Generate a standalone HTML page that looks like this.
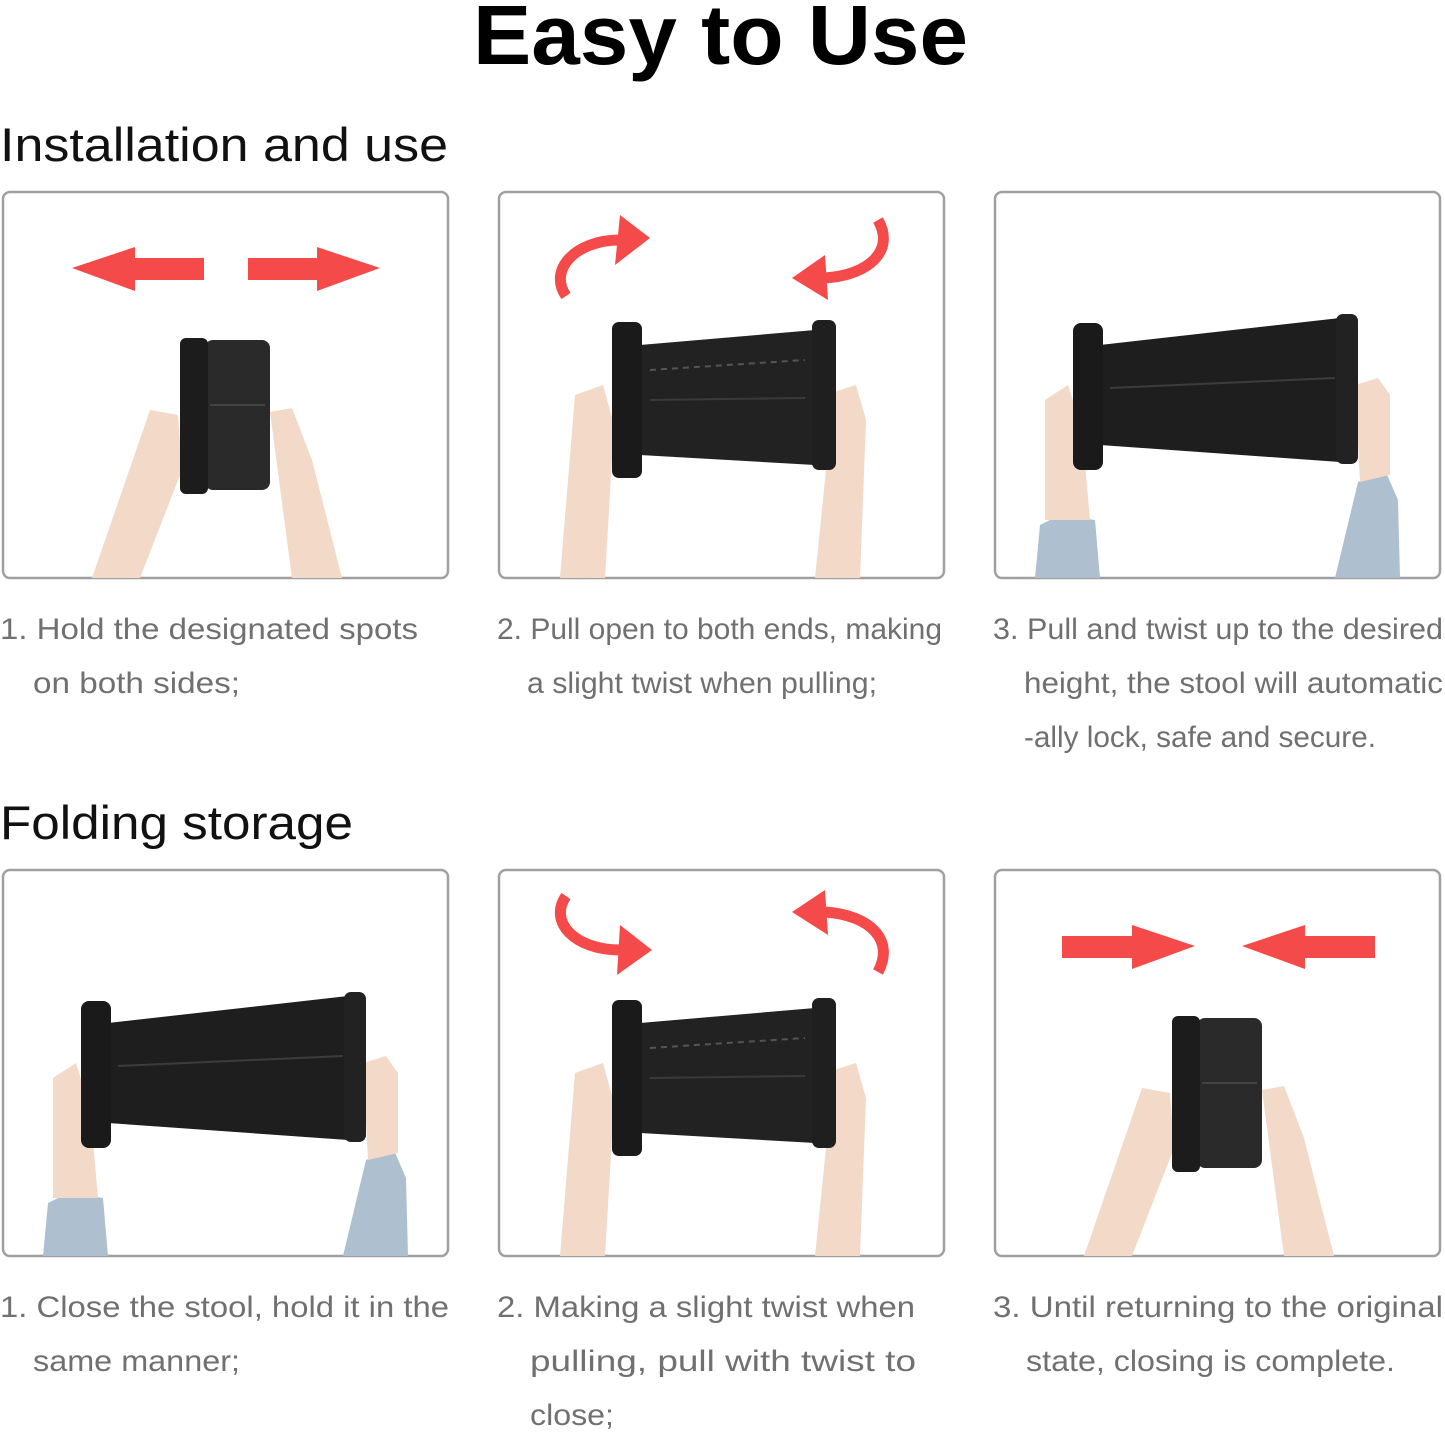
<!DOCTYPE html>
<html><head><meta charset="utf-8"><style>
html,body{margin:0;padding:0;background:#fff;}
svg{display:block;}
.cap{font-family:"Liberation Sans",sans-serif;font-size:30px;fill:#707070;}
.h2{font-family:"Liberation Sans",sans-serif;font-size:47px;fill:#111;}
</style></head><body>
<svg width="1445" height="1434" viewBox="0 0 1445 1434" xmlns="http://www.w3.org/2000/svg">
<defs>
<g id="p1">
  <polygon points="92,578 140,578 182,470 178,415 150,410" fill="#f2d9c8"/>
  <polygon points="292,578 342,578 312,460 292,408 270,412" fill="#f2d9c8"/>
  <rect x="205" y="340" width="65" height="150" rx="8" fill="#2a2a2a"/>
  <rect x="180" y="338" width="28" height="156" rx="6" fill="#1c1c1c"/>
  <line x1="210" y1="405" x2="265" y2="405" stroke="#444" stroke-width="2"/>
</g>
<g id="p2">
  <polygon points="560,578 605,578 614,425 603,385 575,395" fill="#f2d9c8"/>
  <polygon points="815,578 860,578 866,420 856,385 834,392" fill="#f2d9c8"/>
  <polygon points="640,345 815,330 815,465 640,455" fill="#222"/>
  <rect x="612" y="322" width="30" height="156" rx="7" fill="#1a1a1a"/>
  <rect x="812" y="320" width="24" height="150" rx="7" fill="#1f1f1f"/>
  <line x1="650" y1="370" x2="805" y2="360" stroke="#555" stroke-width="2" stroke-dasharray="6 5"/>
  <line x1="650" y1="400" x2="805" y2="398" stroke="#3a3a3a" stroke-width="2"/>
</g>
<g id="p3">
  <polygon points="1035,578 1100,578 1095,520 1060,515 1040,525" fill="#aebfcf"/>
  <polygon points="1045,520 1090,520 1082,430 1068,385 1045,400" fill="#f2d9c8"/>
  <polygon points="1335,578 1400,578 1398,500 1385,470 1358,482" fill="#aebfcf"/>
  <polygon points="1360,482 1390,475 1390,395 1378,378 1355,385" fill="#f2d9c8"/>
  <polygon points="1100,345 1340,318 1340,462 1100,445" fill="#1e1e1e"/>
  <rect x="1073" y="323" width="30" height="147" rx="8" fill="#1a1a1a"/>
  <rect x="1336" y="314" width="22" height="150" rx="7" fill="#222"/>
  <line x1="1110" y1="388" x2="1335" y2="378" stroke="#3c3c3c" stroke-width="2"/>
</g>
</defs>

<text x="473" y="64" font-family="Liberation Sans,sans-serif" font-weight="bold" font-size="84" fill="#000" textLength="495" lengthAdjust="spacingAndGlyphs">Easy to Use</text>
<text class="h2" x="0" y="161" textLength="448" lengthAdjust="spacingAndGlyphs">Installation and use</text>
<text class="h2" x="0" y="839" textLength="353" lengthAdjust="spacingAndGlyphs">Folding storage</text>

<g fill="none" stroke="#a0a0a0" stroke-width="2.5">
<rect x="3" y="192" width="445" height="386" rx="7"/>
<rect x="499" y="192" width="445" height="386" rx="7"/>
<rect x="995" y="192" width="445" height="386" rx="7"/>
<rect x="3" y="870" width="445" height="386" rx="7"/>
<rect x="499" y="870" width="445" height="386" rx="7"/>
<rect x="995" y="870" width="445" height="386" rx="7"/>
</g>

<use href="#p1"/>
<use href="#p2"/>
<use href="#p3"/>
<use href="#p3" transform="translate(-992,678)"/>
<use href="#p2" transform="translate(0,678)"/>
<use href="#p1" transform="translate(992,678)"/>

<!-- row1 straight arrows (outward) -->
<polygon points="72,268 135,247 135,258 204,258 204,280 135,280 135,291" fill="#f44a4a"/>
<polygon points="380,268 317,247 317,258 248,258 248,280 317,280 317,291" fill="#f44a4a"/>
<!-- row2 straight arrows (inward) -->
<polygon points="1195,946 1132,925 1132,936 1062,936 1062,958 1132,958 1132,969" fill="#f44a4a"/>
<polygon points="1242,946 1305,925 1305,936 1375,936 1375,958 1305,958 1305,969" fill="#f44a4a"/>

<!-- row1 curved arrows -->
<path d="M566,296 C548,270 575,240 620,240" fill="none" stroke="#f44a4a" stroke-width="11"/>
<polygon points="650,238 620,215 615,265" fill="#f44a4a"/>
<path d="M878,220 C895,250 870,275 825,278" fill="none" stroke="#f44a4a" stroke-width="11"/>
<polygon points="792,278 825,255 828,300" fill="#f44a4a"/>
<!-- row2 curved arrows -->
<path d="M566,896 C548,922 575,950 620,950" fill="none" stroke="#f44a4a" stroke-width="11"/>
<polygon points="652,950 620,925 617,975" fill="#f44a4a"/>
<path d="M878,972 C895,940 870,915 825,912" fill="none" stroke="#f44a4a" stroke-width="11"/>
<polygon points="792,912 825,890 828,935" fill="#f44a4a"/>

<g class="cap">
<text x="0" y="639" textLength="418" lengthAdjust="spacingAndGlyphs">1. Hold the designated spots</text>
<text x="33" y="693" textLength="207" lengthAdjust="spacingAndGlyphs">on both sides;</text>
<text x="497" y="639" textLength="445" lengthAdjust="spacingAndGlyphs">2. Pull open to both ends, making</text>
<text x="527" y="693" textLength="350" lengthAdjust="spacingAndGlyphs">a slight twist when pulling;</text>
<text x="993" y="639" textLength="450" lengthAdjust="spacingAndGlyphs">3. Pull and twist up to the desired</text>
<text x="1024" y="693" textLength="419" lengthAdjust="spacingAndGlyphs">height, the stool will automatic</text>
<text x="1024" y="747" textLength="352" lengthAdjust="spacingAndGlyphs">-ally lock, safe and secure.</text>
<text x="0" y="1317" textLength="449" lengthAdjust="spacingAndGlyphs">1. Close the stool, hold it in the</text>
<text x="33" y="1371" textLength="207" lengthAdjust="spacingAndGlyphs">same manner;</text>
<text x="497" y="1317" textLength="418" lengthAdjust="spacingAndGlyphs">2. Making a slight twist when</text>
<text x="530" y="1371" textLength="386" lengthAdjust="spacingAndGlyphs">pulling,  pull with twist to</text>
<text x="530" y="1425" textLength="84" lengthAdjust="spacingAndGlyphs">close;</text>
<text x="993" y="1317" textLength="450" lengthAdjust="spacingAndGlyphs">3. Until returning to the original</text>
<text x="1026" y="1371" textLength="369" lengthAdjust="spacingAndGlyphs">state, closing is complete.</text>
</g>
</svg>
</body></html>
